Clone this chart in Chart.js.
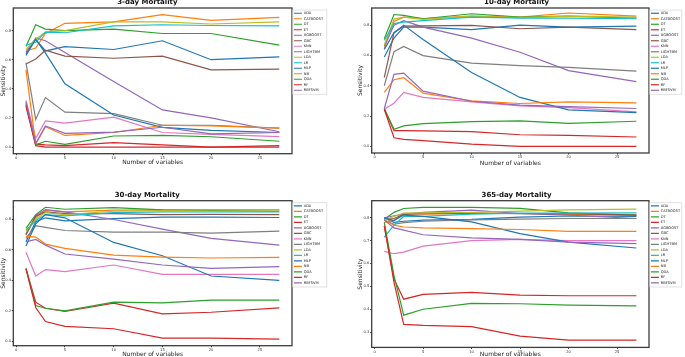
<!DOCTYPE html>
<html><head><meta charset="utf-8">
<script src="https://cdn.jsdelivr.net/npm/chart.js@4.4.1/dist/chart.umd.min.js"></script>
<style>
html,body{margin:0;padding:0;background:#fff;width:685px;height:357px;overflow:hidden;position:relative}
canvas{position:absolute}
</style></head><body>
<canvas id="c1"></canvas><canvas id="c2"></canvas><canvas id="c3"></canvas><canvas id="c4"></canvas>
<script>
const xValues = [1, 2, 3, 5, 10, 15, 20, 27];
const xTicks = [0, 5, 10, 15, 20, 25];
const models = ['ADA','CATBOOST','DT','ET','XGBOOST','GBC','KNN','LIGHTBM','LDA','LR','MLP','NB','QDA','RF','RBFSVM'];
const colors = ['#1f77b4','#ff7f0e','#2ca02c','#d62728','#9467bd','#8c564b','#e377c2','#7f7f7f','#bcbd22','#17becf','#1f77b4','#ff7f0e','#2ca02c','#d62728','#9467bd'];
const yTicksLow = [0.0, 0.2, 0.4, 0.6, 0.8];
const yTicks365 = [0.3, 0.4, 0.5, 0.6, 0.7, 0.8];

const sens3day = [
  [0.64, 0.74, 0.66, 0.69, 0.67, 0.73, 0.60, 0.62],
  [0.66, 0.68, 0.78, 0.85, 0.86, 0.91, 0.87, 0.89],
  [0.69, 0.84, 0.81, 0.80, 0.81, 0.78, 0.78, 0.70],
  [0.29, 0.02, 0.015, 0.01, 0.03, 0.015, 0.0, 0.01],
  [0.65, 0.75, 0.73, 0.65, 0.45, 0.255, 0.20, 0.105],
  [0.57, 0.605, 0.665, 0.625, 0.61, 0.625, 0.53, 0.535],
  [0.32, 0.06, 0.18, 0.165, 0.205, 0.10, 0.087, 0.072],
  [0.58, 0.19, 0.34, 0.24, 0.23, 0.15, 0.15, 0.13],
  [0.67, 0.74, 0.79, 0.80, 0.86, 0.86, 0.845, 0.86],
  [0.70, 0.72, 0.79, 0.785, 0.832, 0.84, 0.835, 0.832],
  [0.63, 0.74, 0.645, 0.435, 0.22, 0.135, 0.115, 0.10],
  [0.53, 0.02, 0.14, 0.08, 0.10, 0.15, 0.145, 0.13],
  [0.30, 0.015, 0.04, 0.018, 0.076, 0.08, 0.071, 0.04],
  [0.28, 0.01, 0.0, 0.0, 0.0, 0.0, 0.0, 0.0],
  [0.31, 0.025, 0.145, 0.094, 0.103, 0.136, 0.09, 0.10]
];
const sens10day = [
  [0.59, 0.715, 0.787, 0.787, 0.771, 0.80, 0.787, 0.793],
  [0.645, 0.824, 0.853, 0.843, 0.86, 0.853, 0.88, 0.86],
  [0.71, 0.87, 0.864, 0.842, 0.875, 0.853, 0.86, 0.846],
  [0.245, 0.104, 0.104, 0.102, 0.097, 0.077, 0.073, 0.062],
  [0.66, 0.80, 0.83, 0.787, 0.714, 0.621, 0.50, 0.427],
  [0.455, 0.75, 0.793, 0.795, 0.798, 0.776, 0.787, 0.771],
  [0.245, 0.285, 0.356, 0.323, 0.294, 0.267, 0.256, 0.228],
  [0.40, 0.625, 0.659, 0.599, 0.55, 0.533, 0.521, 0.497],
  [0.67, 0.84, 0.853, 0.838, 0.86, 0.85, 0.86, 0.853],
  [0.70, 0.81, 0.82, 0.83, 0.853, 0.846, 0.846, 0.842],
  [0.64, 0.75, 0.80, 0.705, 0.488, 0.323, 0.241, 0.223],
  [0.356, 0.44, 0.453, 0.351, 0.30, 0.283, 0.294, 0.287],
  [0.25, 0.113, 0.135, 0.15, 0.164, 0.168, 0.152, 0.166],
  [0.245, 0.057, 0.046, 0.038, 0.015, 0.0, 0.0, 0.0],
  [0.25, 0.475, 0.484, 0.365, 0.298, 0.272, 0.263, 0.25]
];
const sens30day = [
  [0.652, 0.783, 0.809, 0.789, 0.804, 0.813, 0.813, 0.811],
  [0.70, 0.81, 0.859, 0.848, 0.859, 0.861, 0.863, 0.863],
  [0.74, 0.83, 0.878, 0.865, 0.876, 0.861, 0.857, 0.852],
  [0.478, 0.257, 0.217, 0.196, 0.25, 0.18, 0.191, 0.22],
  [0.70, 0.825, 0.863, 0.848, 0.798, 0.735, 0.674, 0.63],
  [0.70, 0.82, 0.848, 0.837, 0.837, 0.83, 0.832, 0.83],
  [0.583, 0.428, 0.47, 0.457, 0.50, 0.439, 0.439, 0.439],
  [0.674, 0.757, 0.746, 0.726, 0.715, 0.715, 0.709, 0.722],
  [0.72, 0.80, 0.843, 0.83, 0.852, 0.857, 0.861, 0.861],
  [0.73, 0.79, 0.83, 0.822, 0.843, 0.848, 0.848, 0.848],
  [0.624, 0.77, 0.83, 0.809, 0.648, 0.561, 0.428, 0.40],
  [0.689, 0.683, 0.637, 0.609, 0.565, 0.552, 0.546, 0.55],
  [0.478, 0.235, 0.217, 0.20, 0.257, 0.252, 0.27, 0.27],
  [0.475, 0.222, 0.13, 0.098, 0.083, 0.022, 0.022, 0.015],
  [0.652, 0.667, 0.63, 0.572, 0.539, 0.50, 0.478, 0.489]
];
const sens365day = [
  [0.80, 0.78, 0.785, 0.79, 0.793, 0.803, 0.808, 0.806],
  [0.78, 0.79, 0.819, 0.816, 0.819, 0.819, 0.815, 0.812],
  [0.794, 0.824, 0.841, 0.846, 0.846, 0.841, 0.822, 0.812],
  [0.765, 0.532, 0.444, 0.465, 0.474, 0.462, 0.459, 0.459],
  [0.80, 0.809, 0.816, 0.824, 0.834, 0.819, 0.812, 0.797],
  [0.794, 0.797, 0.815, 0.818, 0.821, 0.818, 0.818, 0.812],
  [0.653, 0.643, 0.65, 0.676, 0.70, 0.706, 0.70, 0.70],
  [0.79, 0.772, 0.779, 0.785, 0.791, 0.794, 0.797, 0.797],
  [0.79, 0.806, 0.821, 0.822, 0.824, 0.829, 0.835, 0.838],
  [0.716, 0.768, 0.806, 0.806, 0.816, 0.821, 0.821, 0.822],
  [0.80, 0.788, 0.812, 0.806, 0.782, 0.731, 0.694, 0.668],
  [0.79, 0.768, 0.76, 0.756, 0.753, 0.749, 0.741, 0.741],
  [0.78, 0.547, 0.374, 0.40, 0.426, 0.424, 0.418, 0.415],
  [0.765, 0.518, 0.334, 0.329, 0.324, 0.282, 0.265, 0.265],
  [0.79, 0.756, 0.746, 0.726, 0.712, 0.706, 0.694, 0.687]
];

const FAMILY = "'DejaVu Sans', sans-serif";

const framePlugin = {
  id: 'frame',
  afterDraw(chart, args, opts) {
    const {ctx, chartArea: a} = chart;
    ctx.save();
    ctx.strokeStyle = '#3c3c3c';
    ctx.lineWidth = 1.3;
    ctx.strokeRect(a.left, a.top, a.right - a.left, a.bottom - a.top);
    const lg = chart.legend;
    if (lg && lg.legendHitBoxes && lg.legendHitBoxes.length) {
      const hb = lg.legendHitBoxes;
      const t = hb[0].top - 1.4;
      const last = hb[hb.length - 1];
      const b = last.top + last.height + 2.2;
      ctx.strokeStyle = '#d9d9d9';
      ctx.lineWidth = 0.8;
      ctx.strokeRect(lg.left + 0.8, t, lg.width - 2, b - t);
    }
    if (opts && opts.text) {
      ctx.fillStyle = '#111';
      ctx.font = "bold 7px " + FAMILY;
      ctx.textAlign = 'center';
      ctx.textBaseline = 'middle';
      ctx.fillText(opts.text, opts.x, opts.y);
    }
    ctx.restore();
  }
};

const panels = [
  {id:'c1', title:'3-day Mortality', tx:147.3, ty:2.6, data:sens3day, yTicks:yTicksLow, yMin:-0.0455, yMax:0.955, left:0, top:-1, yW:13.3, topH:9, w:328, h:167, xH:12.3, legW:36},
  {id:'c2', title:'10-day Mortality', tx:516.6, ty:2.6, data:sens10day, yTicks:yTicksLow, yMin:-0.0435, yMax:0.913, left:357, top:-1, yW:14.7, topH:9, w:326, h:168, xH:14, legW:34},
  {id:'c3', title:'30-day Mortality', tx:147.3, ty:194.8, data:sens30day, yTicks:yTicksLow, yMin:-0.028, yMax:0.921, left:0, top:191, yW:13.3, topH:9.7, w:328, h:167, xH:12.3, legW:36},
  {id:'c4', title:'365-day Mortality', tx:516.6, ty:194.8, data:sens365day, yTicks:yTicks365, yMin:0.233, yMax:0.875, left:357, top:191, yW:14.7, topH:9.7, w:326, h:167, xH:10.6, legW:34}
];

panels.forEach(p => {
  const el = document.getElementById(p.id);
  el.width = p.w; el.height = p.h;
  el.style.left = p.left + 'px'; el.style.top = p.top + 'px';
  el.style.width = p.w + 'px'; el.style.height = p.h + 'px';
  const datasets = models.map((m, i) => ({
    label: m,
    data: xValues.map((x, j) => ({x: x, y: p.data[i][j]})),
    borderColor: colors[i],
    backgroundColor: colors[i],
    borderWidth: 1.2,
    pointRadius: 0,
    tension: 0,
    order: models.length - i,
    xAxisID: 'x',
    yAxisID: 'y'
  }));
  new Chart(el, {
    type: 'line',
    data: {datasets},
    options: {
      responsive: false, animation: false, devicePixelRatio: 1,
      layout: {padding: 0},
      plugins: {
        legend: {
          position: 'right', align: 'start', fullSize: false, maxWidth: p.legW,
          title: {display: true, text: '', font: {size: 1.3}, padding: 0},
          labels: {
            usePointStyle: true, pointStyle: 'line', pointStyleWidth: 8, boxHeight: 3.6,
            font: {size: 3.6, family: FAMILY}, color: '#222', padding: 1.9,
            sort: (a, b) => a.datasetIndex - b.datasetIndex
          }
        },
        title: {display: false},
        tooltip: {enabled: false},
        frame: {text: p.title, x: p.tx - p.left, y: p.ty - p.top}
      },
      scales: {
        x: {
          type: 'linear', position: 'bottom', min: -0.3, max: 28.3,
          afterBuildTicks: s => { s.ticks = xTicks.map(v => ({value: v})); },
          afterFit: s => { s.height = p.xH; },
          ticks: {font: {size: 3.7, family: FAMILY}, padding: 0.5, color: '#333', maxRotation: 0, autoSkip: false, callback: v => String(v)},
          grid: {display: true, drawOnChartArea: false, drawTicks: true, tickLength: 1.5, color: '#333'},
          border: {display: false},
          title: {display: true, text: 'Number of variables', font: {size: 6, family: FAMILY}, padding: 0, color: '#222'}
        },
        x2: {
          type: 'linear', axis: 'x', position: 'top', min: 0, max: 1,
          afterFit: s => { s.height = p.topH; },
          ticks: {display: false},
          grid: {display: false, drawTicks: false},
          border: {display: false},
          title: {display: false}
        },
        y: {
          type: 'linear', position: 'left', min: p.yMin, max: p.yMax,
          afterBuildTicks: s => { s.ticks = p.yTicks.map(v => ({value: v})); },
          afterFit: s => { s.width = p.yW; },
          ticks: {font: {size: 3.7, family: FAMILY}, padding: 0.8, color: '#333', autoSkip: false, callback: v => Number(v).toFixed(1)},
          grid: {display: true, drawOnChartArea: false, drawTicks: true, tickLength: 1.5, color: '#333'},
          border: {display: false},
          title: {display: true, text: 'Sensitivity', font: {size: 6, family: FAMILY}, padding: 0, color: '#222'}
        }
      }
    },
    plugins: [framePlugin]
  });
});
</script>
</body></html>
